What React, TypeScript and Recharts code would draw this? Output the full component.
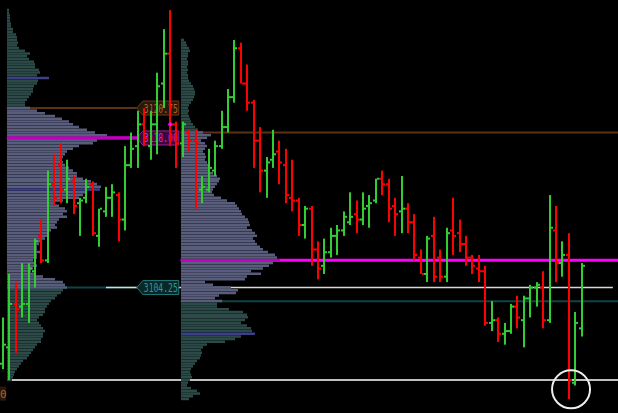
import React from 'react';
import { ComposedChart, BarChart, Bar, Cell, XAxis, YAxis, ReferenceLine, ReferenceDot } from 'recharts';

const CHART_W = 618;
const CHART_H = 413;
const PRICE_MIN = 3092.72;
const PRICE_MAX = 3130.68;
const IDX_MIN = -0.466;
const IDX_MAX = 95.6;
const TICK = 0.25;

const GREEN = '#32cd32';
const RED = '#ff0000';

// OHLC per bar (index 0..90)
const opens = [
  3097.25, 3098.75, 3102.75, 3102.5, 3102.75, 3105.75, 3109.0, 3106.75, 3113.75, 3115.5,
  3113.25, 3114.0, 3112.0, 3112.5, 3113.75, 3109.0, 3111.25, 3112.5, 3112.75, 3110.5,
  3115.5, 3117.25, 3119.25, 3117.25, 3119.25, 3123.0, 3125.75, 3119.25, 3117.5, 3118.5,
  3117.75, 3113.25, 3113.25, 3115.0, 3117.25, 3119.0, 3121.75, 3126.25, 3123.0, 3121.25,
  3117.75, 3115.0, 3116.0, 3116.75, 3115.5, 3112.5, 3112.25, 3110.0, 3111.5, 3107.75,
  3106.25, 3107.5, 3109.0, 3109.5, 3110.25, 3111.0, 3110.5, 3111.75, 3112.25, 3114.25,
  3113.75, 3111.75, 3111.25, 3111.5, 3110.25, 3107.0, 3105.5, 3109.0, 3107.0, 3105.25,
  3109.5, 3109.25, 3108.25, 3107.0, 3106.0, 3105.75, 3101.0, 3101.25, 3100.0, 3100.25,
  3102.5, 3101.25, 3103.25, 3104.25, 3104.25, 3101.25, 3109.5, 3106.5, 3107.25, 3095.5,
  3100.5,
];
const highs = [
  3101.5, 3105.5, 3104.75, 3106.5, 3106.5, 3108.75, 3110.5, 3115.0, 3116.5, 3117.5,
  3116.0, 3114.5, 3112.5, 3114.25, 3114.0, 3111.5, 3113.5, 3113.75, 3113.0, 3117.25,
  3118.5, 3120.5, 3120.75, 3120.5, 3124.0, 3128.0, 3129.75, 3119.5, 3119.5, 3118.75,
  3118.75, 3114.5, 3117.0, 3117.75, 3120.5, 3122.5, 3127.0, 3126.75, 3124.75, 3121.5,
  3119.0, 3116.25, 3118.75, 3117.75, 3117.0, 3116.0, 3112.5, 3111.75, 3111.75, 3108.5,
  3108.75, 3109.75, 3110.0, 3111.25, 3113.0, 3112.25, 3113.0, 3112.75, 3114.25, 3115.0,
  3114.25, 3112.5, 3114.5, 3112.0, 3111.0, 3107.75, 3109.0, 3110.75, 3107.75, 3109.75,
  3112.5, 3110.5, 3109.0, 3107.25, 3107.25, 3106.25, 3103.0, 3101.5, 3101.0, 3102.75,
  3103.5, 3103.5, 3104.5, 3104.75, 3105.75, 3112.75, 3111.75, 3108.5, 3109.25, 3102.0,
  3106.5,
];
const lows = [
  3096.75, 3095.75, 3098.25, 3101.5, 3101.0, 3104.25, 3106.5, 3106.5, 3111.75, 3112.0,
  3112.0, 3111.0, 3109.0, 3112.0, 3109.0, 3108.0, 3110.75, 3110.75, 3108.5, 3109.5,
  3115.25, 3115.25, 3117.25, 3116.0, 3116.5, 3120.75, 3117.25, 3115.25, 3116.25, 3116.75,
  3111.5, 3112.0, 3113.0, 3114.5, 3117.0, 3118.5, 3121.25, 3123.0, 3120.5, 3115.25,
  3113.0, 3112.5, 3115.25, 3113.75, 3112.0, 3111.25, 3109.0, 3108.75, 3106.25, 3105.0,
  3105.5, 3107.0, 3107.25, 3109.0, 3110.0, 3109.25, 3110.0, 3109.75, 3112.0, 3112.75,
  3110.25, 3109.0, 3109.25, 3109.25, 3106.75, 3105.5, 3104.75, 3104.75, 3104.75, 3104.75,
  3107.25, 3107.5, 3106.25, 3105.5, 3104.75, 3100.75, 3100.25, 3099.25, 3099.0, 3100.0,
  3100.5, 3098.75, 3101.5, 3102.5, 3100.5, 3101.0, 3104.75, 3105.25, 3094.0, 3095.25,
  3099.75,
];
const closes = [
  3099.0, 3102.75, 3102.25, 3102.75, 3106.0, 3108.5, 3106.75, 3113.75, 3112.5, 3113.25,
  3114.25, 3111.75, 3112.25, 3113.5, 3109.25, 3111.5, 3112.5, 3113.0, 3110.5, 3115.5,
  3117.0, 3119.25, 3118.0, 3119.25, 3122.75, 3125.75, 3119.25, 3117.5, 3119.25, 3117.75,
  3117.5, 3113.5, 3115.25, 3117.25, 3119.0, 3121.75, 3126.25, 3123.0, 3121.25, 3117.75,
  3115.0, 3115.75, 3116.5, 3115.75, 3112.75, 3112.25, 3110.0, 3111.5, 3107.75, 3106.0,
  3107.5, 3109.0, 3109.5, 3110.75, 3110.75, 3110.5, 3111.5, 3112.0, 3114.25, 3113.75,
  3111.5, 3111.0, 3111.5, 3110.25, 3107.25, 3105.5, 3108.75, 3105.25, 3105.25, 3109.25,
  3109.0, 3108.25, 3107.0, 3106.25, 3105.75, 3101.0, 3101.25, 3100.0, 3100.25, 3102.5,
  3101.5, 3103.25, 3104.25, 3104.5, 3101.25, 3109.75, 3106.5, 3107.25, 3095.75, 3101.0,
  3106.25,
];

// volume profile of the first session, rows from LEFT_TOP downward, one per tick
const LEFT_TOP = 3129.75;
const leftVolumes = [
  2, 2, 3, 3, 3, 4, 4, 6, 6, 9,
  10, 10, 11, 10, 12, 18, 23, 20, 22, 27,
  28, 28, 32, 33, 30, 42, 31, 30, 27, 26,
  26, 24, 22, 20, 18, 18, 23, 30, 38, 48,
  55, 62, 66, 72, 80, 88, 100, 130, 90, 86,
  72, 66, 60, 58, 56, 55, 56, 58, 62, 66,
  70, 70, 76, 84, 90, 94, 93, 78, 76, 72,
  56, 48, 52, 58, 60, 56, 60, 52, 50, 48,
  50, 44, 42, 42, 38, 34, 32, 30, 30, 34,
  30, 30, 26, 28, 30, 26, 24, 28, 36, 48,
  56, 58, 60, 56, 54, 50, 48, 44, 42, 40,
  38, 38, 36, 32, 30, 32, 34, 36, 38, 36,
  36, 34, 34, 30, 28, 26, 24, 22, 20, 16,
  14, 12, 10, 8, 7, 6, 5,
];
const LEFT_VAH = 3120.75;
const LEFT_POC = 3118.0;
const LEFT_VAL = 3104.25;
const leftMarks = [3123.5, 3113.25];

// volume profile of the second session
const RIGHT_TOP = 3127.0;
const rightVolumes = [
  3, 5, 6, 8, 9, 7, 7, 6, 7, 7,
  6, 7, 6, 7, 7, 8, 10, 12, 13, 14,
  14, 13, 12, 10, 8, 7, 8, 7, 8, 9,
  10, 12, 14, 17, 22, 30, 26, 20, 24, 26,
  24, 22, 24, 25, 24, 26, 27, 29, 28, 32,
  36, 39, 38, 36, 34, 32, 31, 33, 40, 46,
  54, 56, 58, 60, 61, 64, 67, 68, 69, 66,
  71, 74, 76, 72, 74, 76, 79, 82, 87, 94,
  96, 99, 92, 88, 82, 70, 80, 66, 64, 24,
  32, 50, 57, 55, 38, 34, 41, 36, 36, 48,
  62, 66, 67, 64, 60, 66, 70, 71, 74, 60,
  54, 44, 26, 22, 20, 21, 20, 19, 16, 14,
  12, 10, 9, 10, 11, 9, 7, 6, 10, 16,
  19, 12, 8,
];
const RIGHT_VAH = 3118.5;
const RIGHT_POC = 3106.75;
const RIGHT_VAL = 3103.0;
const rightMarks = [3100.0];

const WHITE_LEVELS = [3104.25, 3095.75];

const bars = opens.map((o, i) => ({ i, open: o, high: highs[i], low: lows[i], close: closes[i] }));

const toRows = (top: number, vols: number[]) => vols.map((v, k) => ({ price: top - k * TICK, vol: v }));
const leftRows = toRows(LEFT_TOP, leftVolumes);
const rightRows = toRows(RIGHT_TOP, rightVolumes);

const rowColor = (p: number, vah: number, val: number, poc: number, marks: number[]) => {
  if (p === poc) return '#c000c0';
  if (marks.includes(p)) return '#3c3f8a';
  if (p <= vah && p >= val) return '#595d7c';
  return '#2c4a48';
};

const Candle = (props: any) => {
  const { x, y, width, height, payload } = props;
  if (payload == null) return null;
  const cx = Math.round(x + width / 2);
  const top = Math.min(y, y + height);
  const bot = Math.max(y, y + height);
  const span = payload.high - payload.low || 1;
  const oy = top + ((payload.high - payload.open) / span) * (bot - top);
  const cy = top + ((payload.high - payload.close) / span) * (bot - top);
  const col = payload.close >= payload.open ? GREEN : RED;
  return (
    <g>
      <rect x={cx - 1} y={top} width={2} height={Math.max(bot - top, 1)} fill={col} />
      <rect x={cx - 3} y={oy - 1} width={2} height={2} fill={col} />
      <rect x={cx + 1} y={cy - 1} width={2} height={2} fill={col} />
    </g>
  );
};

const Tag = ({ cx, cy, text, bg, border, color }: any) => (
  <g>
    <polygon
      points={`${cx},${cy} ${cx + 6},${cy - 7} ${cx + 42},${cy - 7} ${cx + 42},${cy + 7} ${cx + 6},${cy + 7}`}
      fill={bg}
      stroke={border}
      strokeWidth={1}
    />
    <text
      x={cx + 7}
      y={cy + 4.5}
      fill={color}
      fontSize={12}
      fontFamily="DejaVu Sans Mono"
      textLength={34}
      lengthAdjust="spacingAndGlyphs"
    >
      {text}
    </text>
  </g>
);

const tagShape = (text: string, bg: string, border: string, color: string) => (p: any) =>
  <Tag cx={p.cx} cy={p.cy} text={text} bg={bg} border={border} color={color} />;

// the clipped tag in the bottom-left corner: only its last digit shows
const EdgeTag = (p: any) => (
  <g>
    <rect x={0} y={p.cy - 7} width={6} height={14} fill="#2a180a" />
    <text x={0} y={p.cy + 4} fill="#a8642c" fontSize={11} fontFamily="DejaVu Sans Mono">0</text>
  </g>
);

const margin = { top: 0, right: 0, bottom: 0, left: 0 };

const Profile = ({ rows, width, vah, val, poc, marks }: any) => (
  <BarChart layout="vertical" data={rows} width={width} height={CHART_H} margin={margin} barCategoryGap={0}>
    <XAxis type="number" domain={[0, width]} hide allowDataOverflow />
    <YAxis type="number" dataKey="price" domain={[PRICE_MIN, PRICE_MAX]} reversed hide allowDataOverflow />
    <Bar dataKey="vol" barSize={2.5} isAnimationActive={false}>
      {rows.map((r: any, k: number) => (
        <Cell key={k} fill={rowColor(r.price, vah, val, poc, marks)} />
      ))}
    </Bar>
  </BarChart>
);

const layer = (left: number): React.CSSProperties => ({ position: 'absolute', left, top: 0 });

export default function App() {
  return (
    <div style={{ position: 'absolute', left: 0, top: 0, width: CHART_W, height: CHART_H, background: '#000', overflow: 'hidden' }}>
      {/* levels behind the profiles */}
      <div style={layer(0)}>
        <ComposedChart width={CHART_W} height={CHART_H} data={bars} margin={margin}>
          <XAxis type="number" dataKey="i" domain={[IDX_MIN, IDX_MAX]} hide allowDataOverflow />
          <YAxis type="number" domain={[PRICE_MIN, PRICE_MAX]} hide allowDataOverflow />
          <ReferenceLine segment={[{ x: 0.6, y: LEFT_VAH }, { x: 20.8, y: LEFT_VAH }]} stroke="#5a3216" strokeWidth={2} ifOverflow="visible" />
          <ReferenceLine segment={[{ x: 0.6, y: LEFT_POC }, { x: 20.8, y: LEFT_POC }]} stroke="#ff00ff" strokeWidth={3} ifOverflow="visible" />
          <ReferenceLine segment={[{ x: 0.6, y: LEFT_VAL }, { x: 20.8, y: LEFT_VAL }]} stroke="#0f4444" strokeWidth={2} ifOverflow="visible" />
          <ReferenceLine segment={[{ x: 16.0, y: WHITE_LEVELS[0] }, { x: 94.8, y: WHITE_LEVELS[0] }]} stroke="#d8d8d8" strokeWidth={1.5} ifOverflow="visible" />
          <ReferenceLine segment={[{ x: 0.8, y: WHITE_LEVELS[1] }, { x: 96, y: WHITE_LEVELS[1] }]} stroke="#ffffff" strokeWidth={1.5} ifOverflow="visible" />
          <ReferenceLine segment={[{ x: 27.6, y: RIGHT_VAH }, { x: 96, y: RIGHT_VAH }]} stroke="#5a3216" strokeWidth={2} ifOverflow="visible" />
          <ReferenceLine segment={[{ x: 27.6, y: RIGHT_POC }, { x: 96, y: RIGHT_POC }]} stroke="#ff00ff" strokeWidth={3} ifOverflow="visible" />
          <ReferenceLine segment={[{ x: 27.6, y: RIGHT_VAL }, { x: 96, y: RIGHT_VAL }]} stroke="#0f4444" strokeWidth={2} ifOverflow="visible" />
          <ReferenceDot x={20.8} y={LEFT_VAH} ifOverflow="visible" shape={tagShape('3120.75', '#2a180a', '#6a3a16', '#a8642c')} />
          <ReferenceDot x={20.8} y={LEFT_POC} ifOverflow="visible" shape={tagShape('3118.00', '#3a083a', '#a020a0', '#e020e0')} />
          <ReferenceDot x={20.8} y={LEFT_VAL} ifOverflow="visible" shape={tagShape('3104.25', '#0a2828', '#1e7878', '#2c9898')} />
          <ReferenceDot x={0} y={3094.5} ifOverflow="visible" shape={EdgeTag} />
        </ComposedChart>
      </div>
      <div style={layer(7)}>
        <Profile rows={leftRows} width={140} vah={LEFT_VAH} val={LEFT_VAL} poc={LEFT_POC} marks={leftMarks} />
      </div>
      <div style={layer(181)}>
        <Profile rows={rightRows} width={110} vah={RIGHT_VAH} val={RIGHT_VAL} poc={RIGHT_POC} marks={rightMarks} />
      </div>
      {/* price bars on top */}
      <div style={layer(0)}>
        <ComposedChart width={CHART_W} height={CHART_H} data={bars} margin={margin}>
          <XAxis type="number" dataKey="i" domain={[IDX_MIN, IDX_MAX]} hide allowDataOverflow />
          <YAxis type="number" domain={[PRICE_MIN, PRICE_MAX]} hide allowDataOverflow />
          <Bar dataKey={(d: any) => [d.low, d.high]} barSize={2} shape={<Candle />} isAnimationActive={false} />
          <ReferenceDot x={26} y={3119.25} r={2} fill="#ff00ff" stroke="none" />
          <ReferenceDot x={88.3} y={3094.9} r={19} fill="none" stroke="#eeeeee" strokeWidth={2} ifOverflow="visible" />
        </ComposedChart>
      </div>
    </div>
  );
}
